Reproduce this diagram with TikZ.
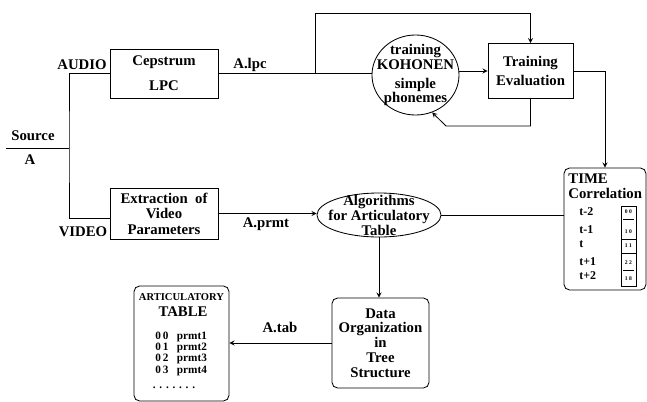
\documentclass[tikz,border=0pt]{standalone}
\usepackage{fontspec}
\setmainfont{Liberation Serif}
\usetikzlibrary{shapes.geometric}
\tikzset{>=stealth}
\tikzset{
  box/.style={draw, align=center, inner sep=1pt, font=\fontsize{10.5}{12}\selectfont\bfseries},
  rbox/.style={box, rounded corners=4pt},
  lbl/.style={inner sep=0pt, font=\fontsize{10.5}{12}\selectfont\bfseries},
  rowlbl/.style={inner sep=0pt, font=\fontsize{8.5}{10}\selectfont\bfseries},
  entry/.style={inner sep=0pt, font=\fontsize{8}{9}\selectfont\bfseries},
  cellval/.style={inner sep=0pt, font=\fontsize{4}{4}\selectfont\bfseries}
}

\begin{document}
\begin{tikzpicture}[x=0.025cm, y=-0.025cm, line width=0.6pt]
    \useasboundingbox (0,0) rectangle (647,402);

    \node [box, minimum width=2.7cm, minimum height=1.225cm] (cep) at (164,73.5) {Cepstrum\\[6pt]LPC};
    \node [box, minimum width=2.125cm, minimum height=1.375cm] (train) at (530.5,71) {Training\\[2pt]Evaluation};
    \node [box, minimum width=2.7cm, minimum height=1.275cm, font=\fontsize{10.5}{11}\selectfont\bfseries] (ext) at (164,213.5) {Extraction~~of\\Video\\Parameters};
    \node [draw, ellipse, minimum width=2.175cm, minimum height=2cm] (koh) at (415.5,75) {};
    \node [lbl, align=center, font=\fontsize{10.5}{10}\selectfont\bfseries] (kohtxt) at (koh) {training\\KOHONEN\\[4pt]simple\\[-0.5pt]phonemes};
    \node [draw, ellipse, minimum width=3.1cm, minimum height=1.1cm] (alg) at (379,215) {};
    \node [lbl, align=center, font=\fontsize{10.5}{9.5}\selectfont\bfseries] (algtxt) at (alg) {Algorithms\\for Articulatory\\Table};
    \node [rbox, minimum width=2.425cm, minimum height=2.25cm, font=\fontsize{10.5}{10.5}\selectfont\bfseries] (data) at (380.5,343) {Data\\Organization\\in\\Tree\\Structure};
    \node [rbox, minimum width=2.05cm, minimum height=3.05cm] (time) at (605,229) {};
    \node [rbox, minimum width=2.375cm, minimum height=2.875cm] (art) at (181.5,343.5) {};

    \node [lbl, align=left, anchor=west, font=\fontsize{10.5}{10.5}\selectfont\bfseries] (timettl) at (568,186.5) {TIME\\Correlation};
    \foreach \lab/\yy [count=\i] in {t-2/212, t-1/230, t/244, t+1/262, t+2/276}
        \node [rowlbl, anchor=west] (tlab\i) at (579,\yy) {\lab};
    \draw (621,206) rectangle (636,286);
    \draw (621,239) -- (636,239) (621,253) -- (636,253);
    \draw (623,219) -- (634,219) (623,270) -- (634,270);
    \foreach \val/\yy [count=\i] in {0 0/212, 1 0/232, 1 1/246, 2 2/263, 1 8/279}
        \node [cellval] (cell\i) at (628.5,\yy) {\val};

    \node [lbl, font=\fontsize{7.5}{9}\selectfont\bfseries] (arttitle) at (181.5,297) {ARTICULATORY};
    \node [lbl] (arttable) at (183,312) {TABLE};
    \foreach \num/\nm/\yy [count=\i] in {0\,0/prmt1/337, 0\,1/prmt2/348, 0\,2/prmt3/359, 0\,3/prmt4/371}
        \node [entry, anchor=west] (ent\i) at (155,\yy) {\num\hspace{6pt}\nm};
    \node [entry] (entdots) at (174,388) {.\,\,.\,\,.\,\,.\,\,.\,\,.\,\,.};

    \node [lbl] (srclbl) at (33,136) {Source};
    \node [lbl] (srca) at (30,160) {A};
    \node [lbl] (audlbl) at (82,65) {AUDIO};
    \node [lbl] (lpclbl) at (250,65) {A.lpc};
    \node [lbl] (vidlbl) at (83,232) {VIDEO};
    \node [lbl] (prmtlbl) at (266,224) {A.prmt};
    \node [lbl] (tablbl) at (280,327) {A.tab};

    \coordinate (srcin) at (6,148);
    \coordinate (split) at (69,148);
    \coordinate (vidin) at (110,218);
    \coordinate (looptop) at (315,13);
    \coordinate (fbk) at (446,126);

    \draw (srcin) -- (split);
    \draw (cep.west) -| (split) |- (vidin);
    \draw (cep.east) -- (cep.east -| koh.west);
    \draw [->] (cep.east -| looptop) -- (looptop) -| (train.north);
    \draw [->] (koh.east |- train.west) -- (train.west);
    \draw [->] (train.south) |- (fbk) -- (koh.-66);
    \draw [->] (train.east) -| (time.north);
    \draw [->] (ext.east) -- (ext.east -| alg.west);
    \draw (alg.east) -- (alg.east -| time.west);
    \draw [->] (alg.south) -- (alg.south |- data.north);
    \draw [->] (data.west) -- (data.west -| art.east);
\end{tikzpicture}
\end{document}
